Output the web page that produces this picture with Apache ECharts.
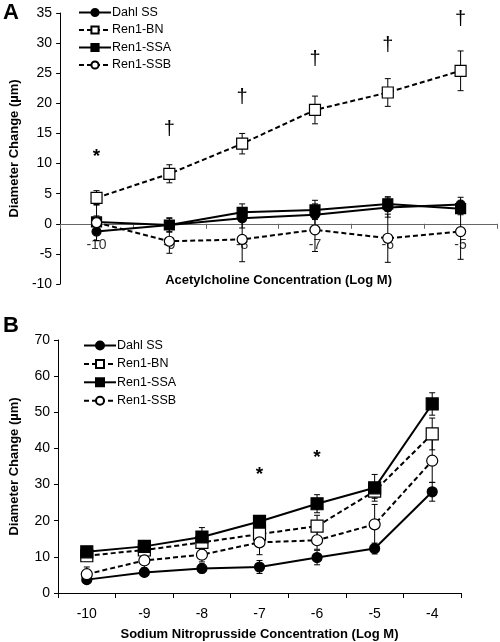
<!DOCTYPE html>
<html><head><meta charset="utf-8">
<script src="https://cdn.jsdelivr.net/npm/echarts@6/dist/echarts.min.js"></script>
<style>html,body{margin:0;padding:0;background:#fff}#c{width:500px;height:642px}</style>
</head><body><div id="c"></div>
<script>
const seriesNames = ['Dahl SS','Ren1-BN','Ren1-SSA','Ren1-SSB'];
// Panel A: Acetylcholine
const catsA = ['-10','-9','-8','-7','-6','-5'];
const dahlA = [-1.3,-0.2,0.9,1.5,2.7,3.2];
const bnA   = [4.3,8.3,13.3,18.9,21.8,25.4];
const ssaA  = [0.3,-0.2,1.9,2.3,3.3,2.5];
const ssbA  = [0.2,-2.9,-2.6,-1.0,-2.4,-1.3];
const dahlAErr = [1.5,1.2,1.6,1.8,1.6,1.2];
const bnAErr   = [1.2,1.5,1.7,2.3,2.3,3.3];
const ssaAErr  = [1.0,1.1,1.4,1.6,1.2,1.0];
const ssbAErr  = [3.0,2.0,3.7,3.6,4.0,4.6];
const marksA = [['*',0,11.2],['†',1,15.7],['†',2,20.9],['†',3,27.2],['†',4,29.6],['†',5,34.0]];
// Panel B: Sodium nitroprusside
const catsB = ['-10','-9','-8','-7','-6','-5','-4'];
const dahlB = [3.7,5.7,6.8,7.2,9.8,12.3,28.0];
const bnB   = [10.3,11.9,14.0,16.3,18.5,28.2,44.0];
const ssaB  = [11.4,12.9,15.5,19.8,24.7,29.1,52.3];
const ssbB  = [5.2,9.0,10.6,14.0,14.6,19.0,36.6];
const dahlBErr = [1.0,1.0,1.2,1.8,2.0,1.5,2.6];
const bnBErr   = [1.5,1.5,2.0,2.5,3.0,2.0,4.4];
const ssaBErr  = [1.2,1.2,2.6,1.5,2.5,3.7,3.1];
const ssbBErr  = [2.0,2.0,2.0,3.4,2.5,5.5,6.0];
const marksB = [['*',3,32.8],['*',4,37.3]];

const FONT = 'Liberation Sans, Arial, sans-serif';
const styles = {
  'Dahl SS':  {symbol:'circle', fill:'#000', dash:'solid'},
  'Ren1-BN':  {symbol:'rect',   fill:'#fff', dash:[5,3]},
  'Ren1-SSA': {symbol:'rect',   fill:'#000', dash:'solid'},
  'Ren1-SSB': {symbol:'circle', fill:'#fff', dash:[5,3]}
};
function lineSeries(name, data, axis, size){
  const s = styles[name];
  const sz = s.symbol==='rect' ? size+1 : size;
  return {type:'line', name, data, xAxisIndex:axis, yAxisIndex:axis,
    symbol:s.symbol, symbolSize:sz, showAllSymbol:true, z:5,
    lineStyle:{color:'#000', width:2, type:s.dash},
    itemStyle:{color:s.fill, borderColor:'#000', borderWidth:1.2},
    emphasis:{disabled:true}, animation:false};
}
function errSeries(vals, errs, axis){
  return {type:'custom', xAxisIndex:axis, yAxisIndex:axis, z:3, silent:true, animation:false,
    data: vals.map((v,i)=>[i, v-errs[i], v+errs[i]]),
    renderItem(params, api){
      const lo = api.coord([api.value(0), api.value(1)]);
      const hi = api.coord([api.value(0), api.value(2)]);
      const w = 3;
      const st = {stroke:'#000', lineWidth:1};
      return {type:'group', children:[
        {type:'line', shape:{x1:lo[0],y1:lo[1],x2:hi[0],y2:hi[1]}, style:st},
        {type:'line', shape:{x1:lo[0]-w,y1:lo[1],x2:lo[0]+w,y2:lo[1]}, style:st},
        {type:'line', shape:{x1:hi[0]-w,y1:hi[1],x2:hi[0]+w,y2:hi[1]}, style:st}
      ]};
    }};
}
function markSeries(marks, axis){
  return {type:'custom', xAxisIndex:axis, yAxisIndex:axis, z:6, silent:true, animation:false,
    data: marks.map(m=>[m[1], m[2], m[0]]),
    renderItem(params, api){
      const p = api.coord([api.value(0), api.value(1)]);
      const t = marks[params.dataIndex][0];
      return {type:'text', x:p[0], y:p[1], style:{text:t, fill:'#000',
        font: t==='*' ? 'bold 19px '+FONT : '20px '+FONT, align:'center', verticalAlign:'middle'}};
    }};
}
const axisLine = {lineStyle:{color:'#000', width:1}};
const chart = echarts.init(document.getElementById('c'), null, {renderer:'canvas'});
chart.setOption({
  animation:false,
  textStyle:{fontFamily:FONT},
  grid:[
    {left:53, right:3, top:13, bottom:358},
    {left:58, right:39, top:340, bottom:48}
  ],
  legend:[
    {orient:'vertical', left:73, top:1, itemWidth:32, itemHeight:9, itemGap:4.5,
     data:seriesNames, textStyle:{fontSize:12.5, color:'#000', fontFamily:FONT, padding:[0,0,0,-4]}},
    {orient:'vertical', left:78, top:334, itemWidth:32, itemHeight:10, itemGap:5.4,
     data:seriesNames, textStyle:{fontSize:12.5, color:'#000', fontFamily:FONT, padding:[0,0,0,-4]}}
  ],
  graphic:[
    {type:'text', left:3, top:2, style:{text:'A', font:'bold 22px '+FONT, fill:'#000'}},
    {type:'text', left:3, top:315, style:{text:'B', font:'bold 22px '+FONT, fill:'#000'}}
  ],
  xAxis:[
    {type:'category', gridIndex:0, data:catsA, boundaryGap:true,
     axisLine:{onZero:true, lineStyle:{color:'#666', width:1}},
     axisTick:{show:true, length:5, inside:false, lineStyle:{color:'#666'}},
     axisLabel:{fontSize:14, color:'#333', margin:-46, fontFamily:FONT},
     name:'Acetylcholine Concentration (Log M)', nameLocation:'middle', nameGap:-10,
     nameTextStyle:{fontWeight:'bold', fontSize:13, color:'#000', fontFamily:FONT}},
    {type:'category', gridIndex:1, data:catsB, boundaryGap:true,
     axisLine:axisLine,
     axisTick:{show:true, length:5, lineStyle:{color:'#000'}},
     axisLabel:{fontSize:14, color:'#000', margin:14, fontFamily:FONT},
     name:'Sodium Nitroprusside Concentration (Log M)', nameLocation:'middle', nameGap:35,
     nameTextStyle:{fontWeight:'bold', fontSize:13, color:'#000', fontFamily:FONT}}
  ],
  yAxis:[
    {type:'value', gridIndex:0, min:-10, max:35, interval:5, splitLine:{show:false},
     axisLine:{show:true, lineStyle:{color:'#000'}}, axisTick:{show:true, length:4},
     axisLabel:{fontSize:14, color:'#000', margin:8, fontFamily:FONT},
     name:'Diameter Change (µm)', nameLocation:'middle', nameGap:35,
     nameTextStyle:{fontWeight:'bold', fontSize:13, color:'#000', fontFamily:FONT}},
    {type:'value', gridIndex:1, min:0, max:70, interval:10, splitLine:{show:false},
     axisLine:{show:true, lineStyle:{color:'#000'}}, axisTick:{show:true, length:4},
     axisLabel:{fontSize:14, color:'#000', margin:8, fontFamily:FONT},
     name:'Diameter Change (µm)', nameLocation:'middle', nameGap:37,
     nameTextStyle:{fontWeight:'bold', fontSize:13, color:'#000', fontFamily:FONT}}
  ],
  series:[
    errSeries(dahlA, dahlAErr, 0), errSeries(bnA, bnAErr, 0), errSeries(ssaA, ssaAErr, 0), errSeries(ssbA, ssbAErr, 0),
    lineSeries('Dahl SS', dahlA, 0, 9), lineSeries('Ren1-BN', bnA, 0, 10),
    lineSeries('Ren1-SSA', ssaA, 0, 9), lineSeries('Ren1-SSB', ssbA, 0, 10),
    markSeries(marksA, 0),
    errSeries(dahlB, dahlBErr, 1), errSeries(bnB, bnBErr, 1), errSeries(ssaB, ssaBErr, 1), errSeries(ssbB, ssbBErr, 1),
    lineSeries('Dahl SS', dahlB, 1, 10), lineSeries('Ren1-BN', bnB, 1, 11),
    lineSeries('Ren1-SSA', ssaB, 1, 11), lineSeries('Ren1-SSB', ssbB, 1, 11),
    markSeries(marksB, 1)
  ]
});
</script></body></html>
